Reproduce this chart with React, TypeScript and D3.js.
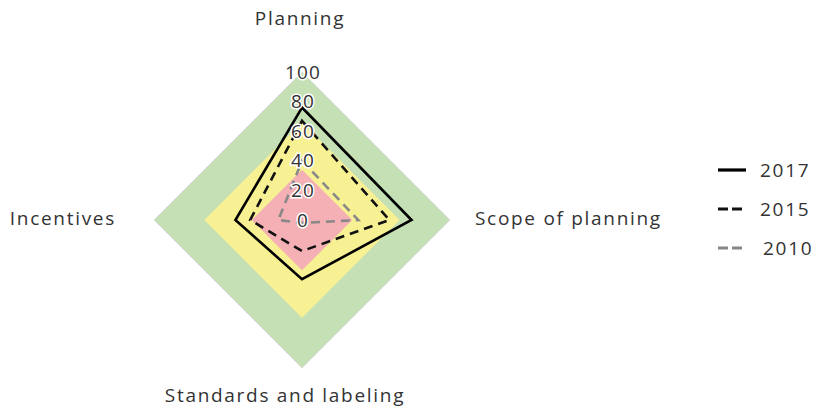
import * as d3 from "d3";
import React from "react";

// axes, clockwise from top
const axes = ["Planning", "Scope of planning", "Standards and labeling", "Incentives"];
const years = ["2017", "2015", "2010"];
const values2017 = [76, 74, 40, 45];
const values2015 = [67, 59, 21, 35];
const values2010 = [40, 38, 2, 16];
const bands = [100, 66, 34];
const bandColors = ["#c6e0b6", "#f7f193", "#f4b0b4"];
const ticks = [0, 20, 40, 60, 80, 100];

const styles = [
  { stroke: "#000", dash: "none" },
  { stroke: "#111", dash: "9,6" },
  { stroke: "#888", dash: "9,6" },
];

export default function App() {
  const svgWidth = 815;
  const svgHeight = 408;
  const cx = 302;
  const cy = 220;
  const radius = 148;

  const r = d3.scaleLinear().domain([0, 100]).range([0, radius]);
  const angle = d3.scaleBand().domain(axes).range([0, 2 * Math.PI]).paddingInner(0).paddingOuter(0);

  const line = d3
    .lineRadial<number>()
    .angle((d, i) => angle(axes[i]) as number)
    .radius((d) => r(d))
    .curve(d3.curveLinearClosed);

  const series = [values2017, values2015, values2010];
  const font = "'Open Sans', sans-serif";

  return (
    <svg width={svgWidth} height={svgHeight} style={{ position: "absolute", left: 0, top: 0 }} fontFamily={font}>
      <g transform={`translate(${cx},${cy})`}>
        {bands.map((b, i) => (
          <path
            key={b}
            d={line(axes.map(() => b)) || ""}
            fill={bandColors[i]}
            stroke={i === 0 ? "#dcdcdc" : "none"}
            strokeWidth={1}
          />
        ))}
        {series.map((s, i) => (
          <path
            key={years[i]}
            d={line(s) || ""}
            fill="none"
            stroke={styles[i].stroke}
            strokeWidth={2.6}
            strokeDasharray={styles[i].dash}
            strokeLinejoin="miter"
          />
        ))}
        {ticks.map((t) => (
          <text
            key={t}
            x={1}
            y={-r(t)}
            dy="0.35em"
            textAnchor="middle"
            fontSize={19}
            fill="#333"
            stroke="#fff"
            strokeWidth={3}
            paintOrder="stroke"
            letterSpacing={1.2}
          >
            {t}
          </text>
        ))}
      </g>
      <g fill="#333" fontSize={19} letterSpacing={1.7}>
        <text x={300} y={18} dy="0.35em" textAnchor="middle">{axes[0]}</text>
        <text x={475} y={218} dy="0.35em" textAnchor="start">{axes[1]}</text>
        <text x={285} y={395} dy="0.35em" textAnchor="middle">{axes[2]}</text>
        <text x={116} y={218} dy="0.35em" textAnchor="end">{axes[3]}</text>
      </g>
      <g>
        {years.map((y, i) => (
          <g key={y} transform={`translate(718,${170 + i * 39})`}>
            <line x1={0} x2={28} y1={0} y2={0} stroke={styles[i].stroke} strokeWidth={3.2} strokeDasharray={i === 0 ? "none" : "10,4"} />
            <text x={42 + (i === 2 ? 3 : 0)} y={0} dy="0.35em" fontSize={19} fill="#333" letterSpacing={1.7}>{y}</text>
          </g>
        ))}
      </g>
    </svg>
  );
}
